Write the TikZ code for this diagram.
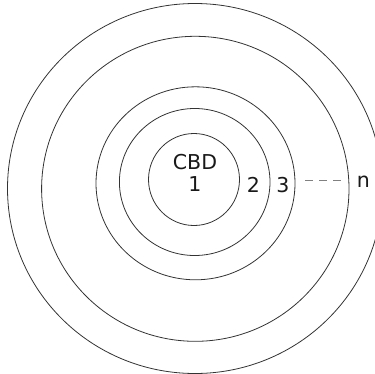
\documentclass[tikz,border=0pt]{standalone}
\usepackage{fontspec}
\setmainfont{DejaVu Sans}
\begin{document}
\begin{tikzpicture}[x=1pt,y=-1pt,
  ring/.style={draw=black!80,line width=0.8pt},
  lbl/.style={font=\fontsize{20.5}{24}\selectfont,text=black!90,inner sep=0pt},
  link/.style={draw=black!50,line width=0.9pt,dash pattern=on 8pt off 6pt}]
\useasboundingbox (0,0) rectangle (375,373);
\clip (0,0) rectangle (375,373);
\draw[ring] (194,179.5) ellipse [x radius=45.5,y radius=46];
\draw[ring] (194.7,182) ellipse [x radius=75.3,y radius=73.5];
\draw[ring] (195.5,183.3) ellipse [x radius=99.5,y radius=96.5];
\draw[ring] (195.3,188.8) ellipse [x radius=153.7,y radius=152.5];
\draw[ring] (195,188.5) ellipse [x radius=187.5,y radius=185];
\node[lbl] (cbd) at (195,161.7) {CBD};
\node[lbl] (one) at (195,184) {1};
\node[lbl] (two) at (253.3,185) {2};
\node[lbl] (three) at (283,185) {3};
\node[lbl] (n) at (363.3,181.5) {n};
\coordinate (ds) at (305,180.7);
\coordinate (de) at (343,180.7);
\draw[link] (ds) -- (de);
\end{tikzpicture}
\end{document}
